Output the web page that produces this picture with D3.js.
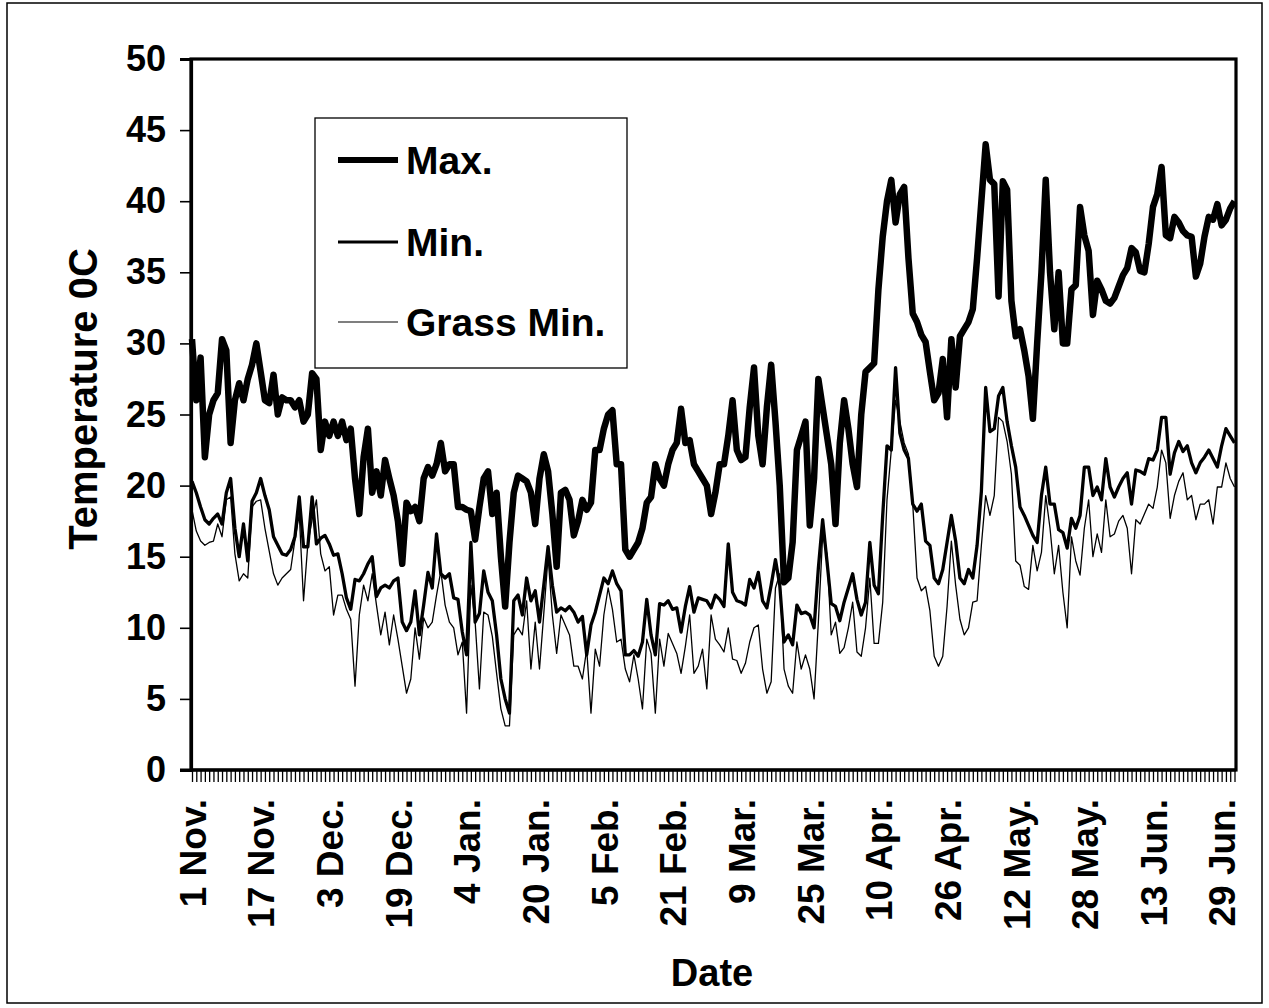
<!DOCTYPE html>
<html><head><meta charset="utf-8">
<script src="https://cdn.jsdelivr.net/npm/d3@7"></script>
<style>
body{margin:0;background:#fff}
svg{display:block}
text{font-family:"Liberation Sans",Arial,Helvetica,sans-serif;font-weight:bold;fill:#000}
</style>
</head><body>
<svg id="chart" width="1269" height="1008"></svg>
<script>
// Daily temperatures (deg C), 1 Nov. onward, one value per day
const maxTemp = [
30.3,26,29,22,25,26,26.5,30.3,29.5,23,
26,27.2,26,27.5,28.5,30,28,26,25.8,27.8,
25,26.2,26,26,25.5,26,24.5,25,27.9,27.5,
22.5,24.5,23.5,24.5,23.5,24.5,23.2,24,20.5,18,
22,24,19.5,21,19.3,21.8,20.5,19.3,17.5,14.5,
18.8,18.2,18.5,17.5,20.5,21.3,20.7,21.5,23,21,
21.5,21.5,18.5,18.5,18.3,18.2,16.2,18.5,20.5,21,
18,19.5,15,11.5,16,19.5,20.7,20.5,20.3,19.5,
17.3,20.5,22.2,21,18,14.3,19.5,19.7,19,16.5,
17.5,19,18.3,18.8,22.5,22.5,24,25,25.3,21.5,
21.5,15.5,15,15.5,16,17,18.8,19.2,21.5,20.5,
20,21.5,22.5,23,25.4,23,23.2,21.5,21,20.5,
20,18,19.5,21.5,21.5,23.5,26,22.5,21.8,22,
25.5,28.3,23.5,21.5,25.5,28.5,24.5,20,13.2,13.5,
16,22.5,23.5,24.5,17.2,20.5,27.5,25.5,23.5,21.5,
17.3,23,26,24,21.5,19.9,25,28,28.3,28.6,
33.8,37.5,40,41.5,38.5,40.5,41,36,32.1,31.5,
30.6,30.1,28,26,26.5,28.9,24.8,30.3,26.9,30.5,
31,31.5,32.4,36,40,44,41.5,41.2,33.3,41.4,
40.8,33,30.5,31,29.5,27.7,24.7,30,35,41.5,
35,31,35,30,30,33.8,34.1,39.6,37.6,36.5,
32,34.4,33.8,33,32.8,33.2,34,34.8,35.3,36.7,
36.4,35.1,35,37,39.6,40.5,42.4,37.6,37.4,38.9,
38.5,37.9,37.6,37.5,34.7,35.6,37.5,38.9,38.7,39.8,
38.3,38.7,39.5,40
];
const minTemp = [
20.3,19.5,18.5,17.6,17.3,17.7,18,17.3,19.5,20.5,
17,15,17.3,14.7,18.9,19.5,20.5,19.3,18.3,16.4,
15.8,15.2,15.1,15.5,16.4,19.2,15.7,15.7,19.2,15.9,
16.3,16.5,15.9,15.1,15.2,13.8,12.1,11.3,13.4,13.3,
13.8,14.5,15,12.2,12.8,13,12.8,13.3,13.5,10.4,
9.8,10.4,12.6,9.5,11.6,13.9,12.8,16.6,13.8,13.5,
13.8,12.1,12,9.7,8.1,16,10.4,11,14,12.5,
11.9,9.5,6.4,5,4,11.9,12.3,10.9,13.5,11.9,
12.6,10.4,13,15.7,13,11.1,11.4,11.2,11.5,11.1,
10.4,10.8,8.1,10.2,11.1,12.3,13.5,13.1,14,13.1,
12.6,8.1,8.1,8.4,8,9,12,9.5,8.1,11.7,
11.6,11.9,11.3,11.4,9.7,11.5,12.9,11.1,12.1,12,
11.9,11.4,12.3,12,11.5,15.9,12.5,11.9,11.8,11.6,
13.4,12.8,13.9,11.9,11.4,13,14.8,13,9,9.5,
8.8,11.6,11,11.1,10.9,10,14.2,17.6,14.7,11.7,
11.5,10.5,11.8,12.8,13.8,12,10.9,11.8,16,13,
12.4,17.9,22.8,22.5,28.3,23.7,22.5,21.9,18.7,18.2,
18.7,16.1,15.8,13.5,13.1,14.1,16,17.9,16.1,13.5,
13.1,14.1,13.5,15.8,19.6,26.9,23.8,24,26.3,26.9,
24.5,22.8,21.3,18.5,17.9,17.2,16.5,16,19.3,21.3,
18.7,18.7,16.9,16.7,15.6,17.7,17,17.9,21.3,21.3,
19.3,19.9,19,21.9,19.9,19.2,19.9,20.5,20.9,18.7,
21.1,21,20.8,21.9,21.8,22.5,24.8,24.8,20.8,22.3,
23.1,22.4,22.8,21.6,20.9,21.6,22,22.5,21.9,21.3,
22.8,24,23.5,23
];
const grassMin = [
18.3,16.8,16.1,15.8,16,16.1,17.3,16.4,19,19.2,
15.2,13.3,13.8,13.5,18.5,18.9,19,17,15.4,13.8,
13,13.5,13.8,14.1,16.2,18,11.9,15.9,17.6,19,
15.2,14,14.3,10.9,12.3,12.3,11.3,10.6,5.9,10.9,
13,11.9,13.8,11.6,9.5,11.1,8.8,10.9,9.2,7.3,
5.4,6.4,10,7.8,10.7,10,10.4,12.3,14,11.6,
10.4,10,8.1,9,4,13,10.4,5.7,11.1,10.9,
9.4,6.8,4.3,3.1,3.1,9.5,10,9.5,11.9,7.1,
10.4,7.1,11,15,10.9,8.2,10.9,10.2,9.5,7.3,
7.3,6.4,8.5,4,8.5,7.3,10.9,12.8,11.3,9,
9.2,7.1,6.2,8.1,6.4,4.3,9.2,8.2,4,9.2,
7.3,9.6,8.9,8.2,6.8,8.7,10.9,6.8,7.3,8.5,
5.7,10.9,9.2,8.8,8.3,10,7.8,7.7,6.8,7.5,
9,10,10.2,7.1,5.4,6.2,12.8,13.8,7.1,5.9,
5.4,9,7.1,8.1,7.1,5,10.4,16.5,15.2,9.5,
10.4,8.2,8.6,10,11.8,8.3,8,10,13.5,8.9,
8.9,11.8,19,22.5,26,24.5,23,22.2,18.7,13.5,
12.6,12.9,11.2,8,7.3,8,11.5,16.1,13,10.6,
9.5,10,11.8,11.9,15.8,19.3,17.9,19.3,24.8,24.5,
23.1,20.8,14.7,14.4,12.9,12.7,15.8,14,15.3,19.3,
17,13.8,15.8,12.5,10,16.4,14.7,13.7,17,19,
15,16.6,15.3,19,16.4,16.6,17.5,17.9,17,13.8,
17.6,17.3,18,18.7,18.4,19.9,22.5,21.6,17.7,19.3,
20.3,20.9,19,19.3,17.6,18.7,18.7,19,17.3,19.9,
19.9,21.6,20.5,19.9
];
const xTickLabels = ["1 Nov.","17 Nov.","3 Dec.","19 Dec.","4 Jan.","20 Jan.","5 Feb.","21 Feb.",
  "9 Mar.","25 Mar.","10 Apr.","26 Apr.","12 May.","28 May.","13 Jun.","29 Jun."];
const labelStep = 16;
const yTicks = [0,5,10,15,20,25,30,35,40,45,50];
const seriesNames = ["Max.","Min.","Grass Min."];
const seriesWidths = [6.5,3.3,1.3];
const legendWidths = [6,2.8,1.2];

const svg = d3.select("#chart");
const L = 191, R = 1236, T = 59, B = 770;
const nDays = maxTemp.length;
const x = d3.scaleLinear().domain([0, nDays - 1]).range([192, 1234.5]);
const y = d3.scaleLinear().domain([0, 50]).range([B, T]);

// outer frame
svg.append("rect").attr("x",7).attr("y",3).attr("width",1255).attr("height",1000)
  .attr("fill","none").attr("stroke","#000").attr("stroke-width",1.5);

// plot frame
svg.append("rect").attr("x",L).attr("y",T).attr("width",R-L).attr("height",B-T)
  .attr("fill","none").attr("stroke","#000").attr("stroke-width",3.2);

// y axis
const yAxis = d3.axisLeft(y).tickValues(yTicks).tickSize(11).tickPadding(14).tickFormat(d3.format("d"));
const gy = svg.append("g").attr("transform",`translate(${L},0)`).call(yAxis);
gy.select(".domain").attr("stroke","#000").attr("stroke-width",3.2);
gy.selectAll(".tick line").attr("stroke","#000").attr("stroke-width",1.6);
gy.selectAll(".tick text").attr("font-size",36).attr("font-family",'"Liberation Sans",Arial,sans-serif')
  .attr("font-weight","bold").attr("fill","#000");

// x axis: minor tick per day, labels every 16 days
const dayIdx = d3.range(nDays);
const xAxis = d3.axisBottom(x).tickValues(dayIdx).tickSize(12).tickFormat(d => (d % labelStep === 0 && xTickLabels[d/labelStep]) ? xTickLabels[d/labelStep] : "");
const gx = svg.append("g").attr("transform",`translate(0,${B})`).call(xAxis);
gx.select(".domain").attr("stroke","#000").attr("stroke-width",3.2).attr("d",`M${180},0H${R}`);
gx.selectAll(".tick line").attr("stroke","#000").attr("stroke-width",1.3);
gx.selectAll(".tick text")
  .attr("font-size",37).attr("font-family",'"Liberation Sans",Arial,sans-serif').attr("font-weight","bold").attr("fill","#000")
  .attr("text-anchor","end")
  .attr("transform","rotate(-90)")
  .attr("x",-29).attr("y",0).attr("dy","0.36em");

// axis titles
svg.append("text").attr("transform","translate(97,399) rotate(-90)").attr("text-anchor","middle")
  .attr("font-size",40).text("Temperature 0C");
svg.append("text").attr("x",712).attr("y",986).attr("text-anchor","middle").attr("font-size",38).text("Date");

// series
const allSeries = [maxTemp, minTemp, grassMin];
const line = d3.line().x((d,i) => x(i)).y(d => y(d));
svg.append("g").selectAll("path").data(allSeries).join("path")
  .attr("d", line)
  .attr("fill","none").attr("stroke","#000")
  .attr("stroke-width",(d,i) => seriesWidths[i])
  .attr("stroke-linejoin","round");

// legend
const lg = svg.append("g");
lg.append("rect").attr("x",315).attr("y",118).attr("width",312).attr("height",250)
  .attr("fill","#fff").attr("stroke","#000").attr("stroke-width",1.3);
const legY = [160, 242, 322];
seriesNames.forEach((name,i) => {
  lg.append("line").attr("x1",338).attr("x2",398).attr("y1",legY[i]).attr("y2",legY[i])
    .attr("stroke","#000").attr("stroke-width",legendWidths[i]);
  lg.append("text").attr("x",406).attr("y",legY[i]).attr("dy","0.36em").attr("font-size",39).text(name);
});
</script>
</body></html>
